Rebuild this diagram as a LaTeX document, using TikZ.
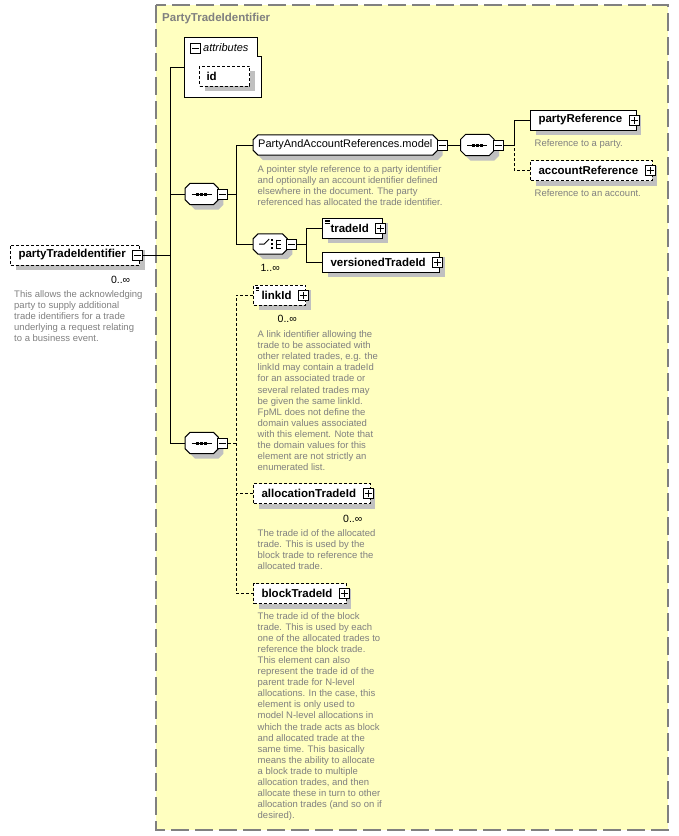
\documentclass[tikz,border=0pt]{standalone}
\usepackage{fontspec}
\setmainfont{Liberation Sans}
\usetikzlibrary{positioning,shadows}

\definecolor{bgyellow}{RGB}{255,255,192}
\definecolor{framegray}{RGB}{128,128,128}
\definecolor{descgray}{RGB}{128,128,128}
\definecolor{shadegray}{RGB}{192,192,192}

\pgfdeclarelayer{frame}
\pgfdeclarelayer{shapes}
\pgfsetlayers{frame,shapes,main}

% octagon round a compositor node: node, x offset, y offset
\newcommand{\octpath}[3]{([xshift=#2+5pt,yshift=#3]#1.north west) -- ([xshift=#2-5pt,yshift=#3]#1.north east) -- ([xshift=#2,yshift=#3-5pt]#1.north east) -- ([xshift=#2,yshift=#3+5pt]#1.south east) -- ([xshift=#2-5pt,yshift=#3]#1.south east) -- ([xshift=#2+5pt,yshift=#3]#1.south west) -- ([xshift=#2,yshift=#3+5pt]#1.south west) -- ([xshift=#2,yshift=#3-5pt]#1.north west) -- cycle}
\newcommand{\octagonbox}[1]{%
  \fill[shadegray] \octpath{#1}{5pt}{-5pt};
  \draw[line width=1pt, fill=white] \octpath{#1}{0pt}{0pt};}
\newcommand{\seqmark}[1]{%
  \draw[line width=1pt] ([xshift=-10pt]#1.center) -- ([xshift=10pt]#1.center);
  \foreach \dx in {-4,0,4}
    \fill ([xshift=\dx pt]#1.center) ++(-1.5pt,-1.5pt) rectangle ++(3pt,3pt);}
\newcommand{\choicemark}[1]{%
  \draw[line width=1pt] ([xshift=-11pt]#1.center) -- ++(5pt,0pt) -- ++(5pt,5pt);
  \foreach \dy in {-4,0,4}
    \fill ([xshift=2pt,yshift=\dy pt]#1.center) ++(-1pt,-1pt) rectangle ++(2pt,2pt);
  \draw[line width=1pt] ([xshift=6pt,yshift=4.5pt]#1.center) -- ++(0pt,-9pt);
  \foreach \dy in {-4,0,4}
    \draw[line width=1pt] ([xshift=6pt,yshift=\dy pt]#1.center) -- ++(5pt,0pt);}

\begin{document}
\begin{tikzpicture}[
  x=1pt, y=-1pt,
  every node/.style={inner sep=0pt},
  wire/.style={line width=1pt},
  optwire/.style={line width=1pt, dash pattern=on 3pt off 2pt},
  boxshadow/.style={
    drop shadow={fill=shadegray, opacity=1, shadow xshift=5pt, shadow yshift=-5pt}
  },
  element/.style={
    rectangle,
    draw,
    fill=white,
    line width=1pt,
    anchor=west,
    boxshadow,
    minimum height=20pt,
    inner xsep=8pt,
    font=\fontsize{11.5}{13}\selectfont\bfseries,
    execute at end node={\hspace{6pt}}
  },
  optelement/.style={
    element,
    dash pattern=on 3pt off 2pt
  },
  simpletype/.style={
    path picture={
      \foreach \k in {2,3.5,5}
        \draw[line width=0.6pt] ([xshift=2pt,yshift=-\k pt]path picture bounding box.north west) -- ++(5pt,0pt);
    }
  },
  compositor/.style={
    rectangle,
    anchor=west,
    minimum width=33pt,
    minimum height=21pt
  },
  modelgroup/.style={
    compositor,
    minimum height=20pt,
    inner xsep=5pt,
    font=\fontsize{11}{13}\selectfont
  },
  pmbox/.style={
    rectangle,
    draw,
    fill=white,
    line width=1pt,
    minimum size=10pt
  },
  plusbox/.style={
    pmbox,
    path picture={
      \draw ([xshift=-3.5pt]path picture bounding box.center) -- ([xshift=3.5pt]path picture bounding box.center);
      \draw ([yshift=-3.5pt]path picture bounding box.center) -- ([yshift=3.5pt]path picture bounding box.center);
    }
  },
  minusbox/.style={
    pmbox,
    path picture={
      \draw ([xshift=-3.5pt]path picture bounding box.center) -- ([xshift=3.5pt]path picture bounding box.center);
    }
  },
  desc/.style={
    font=\fontsize{9.5}{11.1}\selectfont,
    text=descgray,
    align=left
  },
  mult/.style={
    font=\fontsize{10.5}{12}\selectfont
  }
]

  \useasboundingbox (0,0) rectangle (679,836);
  \begin{pgfonlayer}{frame}
    \fill[bgyellow] (156,5) rectangle (668,830);
    \draw[framegray, line width=1.5pt, dash pattern=on 18pt off 6pt] (156,5) rectangle (668,830);
  \end{pgfonlayer}
  \node (title) [anchor=west, text=framegray, font=\fontsize{11.5}{13}\selectfont\bfseries] at (162,18.5) {PartyTradeIdentifier};

  \node (pti) [optelement] at (10,255) {partyTradeIdentifier};
  \node (ptiPM) [minusbox, anchor=east] at ([xshift=3pt]pti.east) {};
  \node (ptiMult) [mult, below left=10.5pt and 10pt of pti.south east] {0..∞};
  \node (ptiDesc) [desc, below right=35pt and 4pt of pti.west] {This allows the acknowledging\\party to supply additional\\trade identifiers for a trade\\underlying a request relating\\to a business event.};

  \node (attrbox) [minimum width=76pt, minimum height=59pt] at (223,67.5) {};
  \draw[wire, fill=white] (attrbox.north west) -- ([xshift=-4pt]attrbox.north east) |- ([yshift=-19pt]attrbox.north east) -- (attrbox.south east) -- (attrbox.south west) -- cycle;
  \node (attrPM) [minusbox] at (195.5,48.5) {};
  \node (attrLabel) [anchor=west, font=\fontsize{11}{13}\selectfont\itshape] at (203,48) {attributes};
  \node (id) [optelement, text width=36pt, inner xsep=7pt, align=left, execute at end node={}] at (199,76) {id};

  \node (seqTop) [compositor] at (185,194) {};
  \node (seqTopPM) [minusbox, right=-1pt of seqTop] {};

  \node (model) [modelgroup] at (253,145) {PartyAndAccountReferences.model};
  \node (modelPM) [minusbox, right=-1pt of model] {};
  \node (modelDesc) [desc, below right=20pt and 4.5pt of model.west] {A pointer style reference to a party identifier\\and optionally an account identifier defined\\elsewhere in the document. The party\\referenced has allocated the trade identifier.};

  \node (seqRefs) [compositor, right=13pt of modelPM] {};
  \node (seqRefsPM) [minusbox, right=-1pt of seqRefs] {};

  \node (partyRef) [element] at (530,120) {partyReference};
  \node (partyRefPM) [plusbox, anchor=east] at ([xshift=3pt]partyRef.east) {};
  \node (partyRefDesc) [desc, below right=19pt and 4.5pt of partyRef.west] {Reference to a party.};

  \node (accountRef) [optelement] at (530,170.5) {accountReference};
  \node (accountRefPM) [plusbox, anchor=east] at ([xshift=3pt]accountRef.east) {};
  \node (accountRefDesc) [desc, below right=19pt and 4.5pt of accountRef.west] {Reference to an account.};

  \node (choiceIds) [compositor, minimum width=34pt, minimum height=20pt] at (253,244) {};
  \node (choiceIdsPM) [minusbox, right=-1pt of choiceIds] {};
  \node (choiceMult) [mult, below=10pt of choiceIds.south] {1..∞};

  \node (tradeId) [element, simpletype] at (322,228) {tradeId};
  \node (tradeIdPM) [plusbox, anchor=east] at ([xshift=3pt]tradeId.east) {};

  \node (versionedTradeId) [element] at (322,262) {versionedTradeId};
  \node (versionedTradeIdPM) [plusbox, anchor=east] at ([xshift=3pt]versionedTradeId.east) {};

  \node (seqLinks) [compositor] at (185,443) {};
  \node (seqLinksPM) [minusbox, right=-1pt of seqLinks] {};

  \node (linkId) [optelement, simpletype] at (253,295) {linkId};
  \node (linkIdPM) [plusbox, anchor=east] at ([xshift=3pt]linkId.east) {};
  \node (linkIdMult) [mult, below left=9.5pt and 9pt of linkId.south east] {0..∞};
  \node (linkIdDesc) [desc, below right=35.5pt and 4.5pt of linkId.west] {A link identifier allowing the\\trade to be associated with\\other related trades, e.g. the\\linkId may contain a tradeId\\for an associated trade or\\several related trades may\\be given the same linkId.\\FpML does not define the\\domain values associated\\with this element. Note that\\the domain values for this\\element are not strictly an\\enumerated list.};

  \node (allocationTradeId) [optelement] at (253,493.5) {allocationTradeId};
  \node (allocationTradeIdPM) [plusbox, anchor=east] at ([xshift=3pt]allocationTradeId.east) {};
  \node (allocationMult) [mult, below left=10.5pt and 8pt of allocationTradeId.south east] {0..∞};
  \node (allocationDesc) [desc, below right=36pt and 4.5pt of allocationTradeId.west] {The trade id of the allocated\\trade. This is used by the\\block trade to reference the\\allocated trade.};

  \node (blockTradeId) [optelement] at (253,593.5) {blockTradeId};
  \node (blockTradeIdPM) [plusbox, anchor=east] at ([xshift=3pt]blockTradeId.east) {};
  \node (blockDesc) [desc, below right=18.5pt and 4.5pt of blockTradeId.west] {The trade id of the block\\trade. This is used by each\\one of the allocated trades to\\reference the block trade.\\This element can also\\represent the trade id of the\\parent trade for N-level\\allocations. In the case, this\\element is only used to\\model N-level allocations in\\which the trade acts as block\\and allocated trade at the\\same time. This basically\\means the ability to allocate\\a block trade to multiple\\allocation trades, and then\\allocate these in turn to other\\allocation trades (and so on if\\desired).};

  \begin{pgfonlayer}{shapes}
    \octagonbox{seqTop}
    \octagonbox{model}
    \octagonbox{seqRefs}
    \octagonbox{choiceIds}
    \octagonbox{seqLinks}
  \end{pgfonlayer}
  \seqmark{seqTop}
  \seqmark{seqRefs}
  \seqmark{seqLinks}
  \choicemark{choiceIds}

  \coordinate (trunk) at (170,255);
  \draw[wire] (ptiPM.east) -- (trunk);
  \draw[wire] (attrbox.west) -| (trunk);
  \draw[wire] (seqLinks.west) -| (trunk);
  \draw[wire] (seqTop.west) -- (seqTop.west -| trunk);

  \coordinate (forkTop) at ([xshift=8pt]seqTopPM.east);
  \draw[wire] (seqTopPM.east) -- (forkTop);
  \draw[wire] (model.west) -| (forkTop) |- (choiceIds.west);

  \draw[wire] (modelPM.east) -- (seqRefs.west);
  \coordinate (forkRefs) at ([xshift=10pt]seqRefsPM.east);
  \draw[wire] (seqRefsPM.east) -- (forkRefs);
  \draw[wire] (partyRef.west) -| (forkRefs);
  \draw[optwire] (accountRef.west) -| (forkRefs);

  \coordinate (forkIds) at ([xshift=9pt]choiceIdsPM.east);
  \draw[wire] (choiceIdsPM.east) -- (forkIds);
  \draw[wire] (tradeId.west) -| (forkIds) |- (versionedTradeId.west);

  \coordinate (forkLinks) at ([xshift=8pt]seqLinksPM.east);
  \draw[optwire] (seqLinksPM.east) -- (forkLinks);
  \draw[optwire] (linkId.west) -| (forkLinks) |- (blockTradeId.west);
  \draw[optwire] (allocationTradeId.west) -- (allocationTradeId.west -| forkLinks);
\end{tikzpicture}
\end{document}
